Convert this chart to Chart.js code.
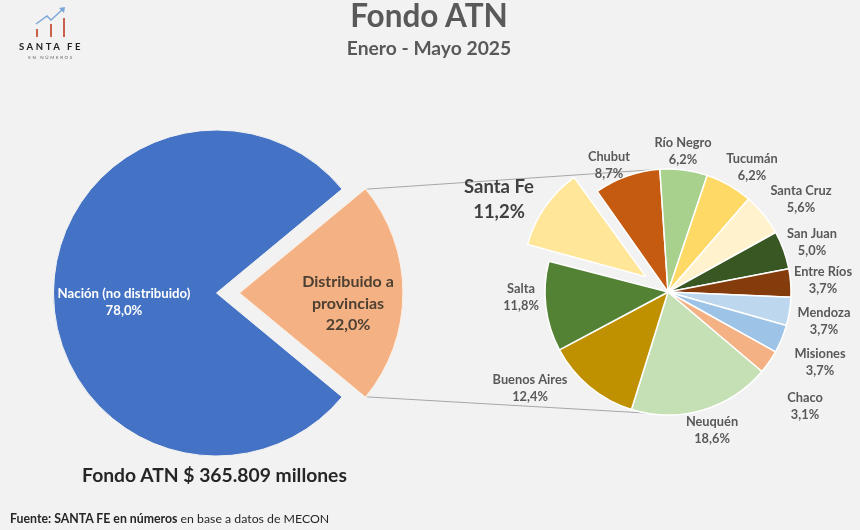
<!DOCTYPE html>
<html lang="es">
<head>
<meta charset="utf-8">
<title>Fondo ATN</title>
<script src="https://cdn.jsdelivr.net/npm/chart.js@4"></script>
<style>
  html, body { margin: 0; padding: 0; background: #f2f2f2; }
  #page { position: relative; width: 860px; height: 530px; overflow: hidden; background: #f2f2f2; font-family: Lato, sans-serif; }
  #page canvas { position: absolute; left: 0; top: 0; }
  .txt { position: absolute; white-space: nowrap; font-weight: 700; }
  #titulo { left: 0; width: 858px; top: -4px; text-align: center; font-size: 31.5px; line-height: 38px; color: #595959; }
  #subtitulo { left: 0; width: 858px; top: 37px; text-align: center; font-size: 19.3px; line-height: 22px; color: #595959; }
  #total { left: 0; width: 429px; top: 463px; text-align: center; font-size: 19.3px; line-height: 24px; color: #262626; }
  #fuente { left: 10px; top: 512px; font-size: 12.3px; line-height: 14px; color: #262626; font-weight: 400; }
  #fuente b { font-weight: 700; }
  #logo { position: absolute; left: 14px; top: 2px; }
</style>
</head>
<body>
<div id="page">
  <canvas id="graficaNacion" width="860" height="530"></canvas>
  <canvas id="graficaProvincias" width="860" height="530"></canvas>
  <svg id="logo" width="76" height="60" viewBox="14 2 76 60">
    <polyline points="36,24 47,16 51,20 63,9" fill="none" stroke="#7ba7d7" stroke-width="1.5"/>
    <polygon points="65,7 59,8 64,13" fill="#7ba7d7"/>
    <rect x="36" y="29" width="2" height="8" fill="#c8604a"/>
    <rect x="50" y="24" width="2" height="13" fill="#c8604a"/>
    <rect x="63" y="18" width="2" height="19" fill="#c8604a"/>
    <text x="51" y="50" text-anchor="middle" font-family="Lato, sans-serif" font-weight="700" font-size="9.5" letter-spacing="2.6" fill="#222">SANTA FE</text>
    <text x="51" y="59" text-anchor="middle" font-family="Lato, sans-serif" font-size="4.5" letter-spacing="1.6" fill="#666">EN NÚMEROS</text>
  </svg>
  <div class="txt" id="titulo">Fondo ATN</div>
  <div class="txt" id="subtitulo">Enero - Mayo 2025</div>
  <div class="txt" id="total">Fondo ATN $ 365.809 millones</div>
  <div class="txt" id="fuente"><b>Fuente: SANTA FE en números</b> en base a datos de MECON</div>
</div>
<script>
// datos
const categoriasNacion = ['Nación (no distribuido)', 'Distribuido a|provincias'];
const valoresNacion = [78.0, 22.0];
const coloresNacion = ['#4472c4', '#f4b183'];

const provincias = ['Santa Fe', 'Chubut', 'Río Negro', 'Tucumán', 'Santa Cruz', 'San Juan', 'Entre Ríos',
  'Mendoza', 'Misiones', 'Chaco', 'Neuquén', 'Buenos Aires', 'Salta'];
const valoresProvincias = [11.2, 8.7, 6.2, 6.2, 5.6, 5.0, 3.7, 3.7, 3.7, 3.1, 18.6, 12.4, 11.8];
const coloresProvincias = ['#ffe699', '#c55a11', '#a9d18e', '#ffd966', '#fff2cc', '#385723', '#843c0c',
  '#bdd7ee', '#9dc3e6', '#f4b183', '#c5e0b4', '#bf9000', '#548235'];

// posicion de cada rotulo respecto del centro de su torta
const rotulosNacion = [
  { dx: -92.5, dy: 9.5, font: '700 13.2px Lato', color: '#ffffff', lh: 17 },
  { dx: 131.5, dy: 10.5, font: '700 16px Lato', color: '#4d4033', lh: 21.5 }
];
const posProvincias = [[-169, -92.5], [-59, -127], [15, -140.5], [84, -124.5], [133, -93], [144, -49.5], [155, -11.5],
  [156, 29.5], [152, 70.5], [137, 114], [44, 138.5], [-138, 96.5], [-147, 5]];
const rotulosProvincias = posProvincias.map(function (p, i) {
  return i === 0
    ? { dx: p[0], dy: p[1], font: '700 18.5px Lato', color: '#404040', lh: 25 }
    : { dx: p[0], dy: p[1], font: '700 12.8px Lato', color: '#595959', lh: 17 };
});

// chart.js dibuja el desplazamiento como offset / 4
const despNacion = 23;
const despSantaFe = 27;
// la porcion separada sale mas grande que las otras, se achica a mano
const recorteSantaFe = 10;

function porcentaje(v) {
  return v.toFixed(1).replace('.', ',') + '%';
}

// dibuja nombre y valor de cada porcion
const rotulos = {
  id: 'rotulos',
  afterDatasetsDraw: function (chart, args, opts) {
    const ctx = chart.ctx;
    const arc = chart.getDatasetMeta(0).data[0];
    ctx.save();
    ctx.textAlign = 'center';
    ctx.textBaseline = 'middle';
    opts.nombres.forEach(function (nombre, i) {
      const r = opts.posiciones[i];
      const lineas = nombre.split('|').concat(porcentaje(chart.data.datasets[0].data[i]));
      ctx.font = r.font;
      ctx.fillStyle = r.color;
      lineas.forEach(function (t, n) {
        ctx.fillText(t, arc.x + r.dx, arc.y + r.dy + (n - (lineas.length - 1) / 2) * r.lh);
      });
    });
    ctx.restore();
  }
};

const graficaNacion = new Chart(document.getElementById('graficaNacion').getContext('2d'), {
  type: 'pie',
  data: {
    labels: categoriasNacion,
    datasets: [{
      data: valoresNacion,
      backgroundColor: coloresNacion,
      borderColor: ['#f2f2f2', '#fbeee2'],
      borderWidth: 1,
      offset: [0, despNacion * 4]
    }]
  },
  options: {
    responsive: false,
    animation: false,
    rotation: 129.6,
    radius: 163,
    layout: { padding: { top: 56, right: 427 } },
    plugins: {
      legend: { display: false },
      tooltip: { enabled: false },
      rotulos: { nombres: categoriasNacion, posiciones: rotulosNacion }
    }
  },
  plugins: [rotulos]
});

// lineas que unen la porcion distribuida con la segunda torta
const conectores = {
  id: 'conectores',
  afterDatasetUpdate: function (chart) {
    chart.getDatasetMeta(0).data[0].outerRadius -= recorteSantaFe;
  },
  beforeDatasetsDraw: function (chart) {
    const fuente = graficaNacion.getDatasetMeta(0).data[1];
    const p = fuente.getProps(['x', 'y', 'startAngle', 'endAngle', 'outerRadius']);
    const medio = (p.startAngle + p.endAngle) / 2;
    const ox = p.x + Math.cos(medio) * despNacion;
    const oy = p.y + Math.sin(medio) * despNacion;
    const destino = chart.getDatasetMeta(0).data[1];
    const r = destino.outerRadius;
    const ctx = chart.ctx;
    ctx.save();
    ctx.strokeStyle = '#a6a6a6';
    ctx.lineWidth = 1;
    [[p.startAngle, -95], [p.endAngle, 100]].forEach(function (par) {
      const fin = par[1] * Math.PI / 180;
      ctx.beginPath();
      ctx.moveTo(ox + Math.cos(par[0]) * p.outerRadius + 2, oy + Math.sin(par[0]) * p.outerRadius);
      ctx.lineTo(destino.x + Math.cos(fin) * r, destino.y + Math.sin(fin) * r);
      ctx.stroke();
    });
    ctx.restore();
  }
};

new Chart(document.getElementById('graficaProvincias').getContext('2d'), {
  type: 'pie',
  data: {
    labels: provincias,
    datasets: [{
      data: valoresProvincias,
      backgroundColor: coloresProvincias,
      borderColor: '#ffffff',
      borderWidth: 1.5,
      offset: [despSantaFe * 4, 0, 0, 0, 0, 0, 0, 0, 0, 0, 0, 0, 0]
    }]
  },
  options: {
    responsive: false,
    animation: false,
    rotation: 284.5,
    radius: 123,
    layout: { padding: { top: 54, left: 476 } },
    plugins: {
      legend: { display: false },
      tooltip: { enabled: false },
      rotulos: { nombres: provincias, posiciones: rotulosProvincias }
    }
  },
  plugins: [conectores, rotulos]
});
</script>
</body>
</html>
